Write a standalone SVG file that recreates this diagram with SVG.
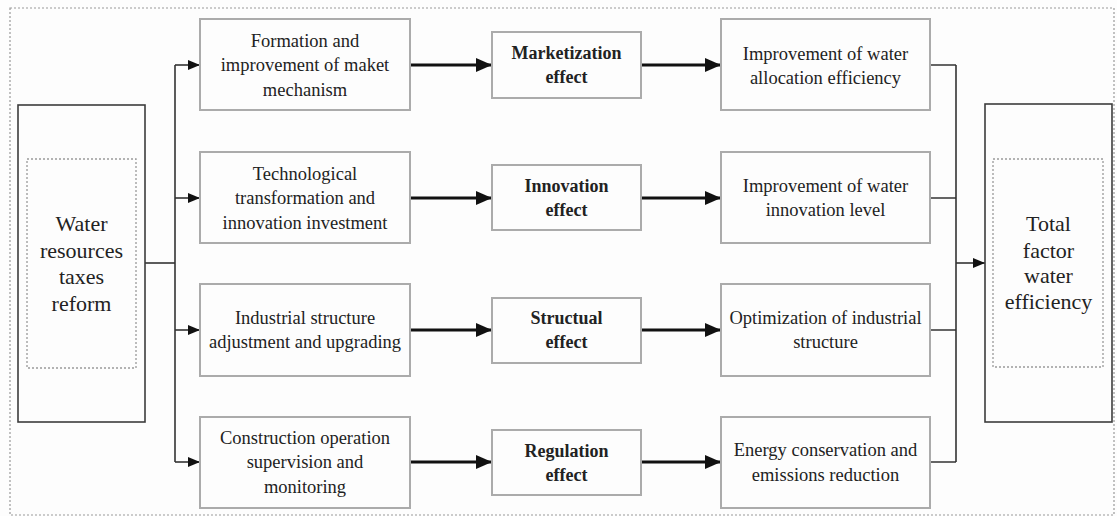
<svg xmlns="http://www.w3.org/2000/svg" width="1117" height="516" viewBox="0 0 1117 516">
<style>
.bg{fill:#fdfdfd}
.frame{fill:none;stroke:#9a9a9a;stroke-width:1.2;stroke-dasharray:2 2}
.big{fill:#fdfdfd;stroke:#3c3c3c;stroke-width:1.6}
.inner{fill:none;stroke:#9a9a9a;stroke-width:1.3;stroke-dasharray:2 2}
.box{fill:#fdfdfd;stroke:#ababab;stroke-width:2}
.t{font-family:"Liberation Serif","Times New Roman",serif;font-size:18.5px;fill:#222;text-anchor:middle}
.tb{font-family:"Liberation Serif","Times New Roman",serif;font-size:18px;font-weight:bold;fill:#222;text-anchor:middle}
.tl{font-family:"Liberation Serif","Times New Roman",serif;font-size:22px;fill:#222;text-anchor:middle}
.thin{fill:none;stroke:#333;stroke-width:1.6}
.thick{fill:none;stroke:#111;stroke-width:3}
</style>
<defs>
<marker id="ah" markerUnits="userSpaceOnUse" markerWidth="12" markerHeight="10" refX="12" refY="5" orient="auto">
<path d="M0,0 L12,5 L0,10 z" fill="#111"/>
</marker>
<marker id="ahb" markerUnits="userSpaceOnUse" markerWidth="16" markerHeight="14" refX="16" refY="7" orient="auto">
<path d="M0,0 L16,7 L0,14 z" fill="#111"/>
</marker>
</defs>
<rect class="bg" x="0" y="0" width="1117" height="516"/>
<rect class="frame" x="10" y="8" width="1104" height="507"/>

<g id="connectors">
<path class="thin" d="M145,263 H175"/>
<path class="thin" d="M175,65 V462"/>
<path class="thin" d="M175,65 H200" marker-end="url(#ah)"/>
<path class="thin" d="M175,198 H200" marker-end="url(#ah)"/>
<path class="thin" d="M175,330 H200" marker-end="url(#ah)"/>
<path class="thin" d="M175,462 H200" marker-end="url(#ah)"/>
<path class="thick" d="M410,65 H492" marker-end="url(#ahb)"/>
<path class="thick" d="M410,198 H492" marker-end="url(#ahb)"/>
<path class="thick" d="M410,330 H492" marker-end="url(#ahb)"/>
<path class="thick" d="M410,462 H492" marker-end="url(#ahb)"/>
<path class="thick" d="M641,65 H721" marker-end="url(#ahb)"/>
<path class="thick" d="M641,198 H721" marker-end="url(#ahb)"/>
<path class="thick" d="M641,330 H721" marker-end="url(#ahb)"/>
<path class="thick" d="M641,462 H721" marker-end="url(#ahb)"/>
<path class="thin" d="M930,65 H956 M930,198 H956 M930,330 H956 M930,462 H956"/>
<path class="thin" d="M956,65 V462"/>
<path class="thin" d="M956,263 H985" marker-end="url(#ah)"/>
</g>

<g id="reform">
<rect class="big" x="18" y="105" width="127" height="317"/>
<rect class="inner" x="27" y="159" width="109" height="209"/>
<text class="tl" x="81.5" y="231">Water</text>
<text class="tl" x="81.5" y="257.5">resources</text>
<text class="tl" x="81.5" y="284">taxes</text>
<text class="tl" x="81.5" y="310.5">reform</text>
</g>

<g id="market">
<rect class="box" x="200" y="19" width="210" height="91"/>
<text class="t" x="305" y="46.5">Formation and</text>
<text class="t" x="305" y="71">improvement of maket</text>
<text class="t" x="305" y="95.5">mechanism</text>
</g>
<g id="tech">
<rect class="box" x="200" y="152" width="210" height="91"/>
<text class="t" x="305" y="179.5">Technological</text>
<text class="t" x="305" y="204">transformation and</text>
<text class="t" x="305" y="228.5">innovation investment</text>
</g>
<g id="industrial">
<rect class="box" x="200" y="284" width="210" height="92"/>
<text class="t" x="305" y="323.5">Industrial structure</text>
<text class="t" x="305" y="348">adjustment and upgrading</text>
</g>
<g id="construction">
<rect class="box" x="200" y="417" width="210" height="91"/>
<text class="t" x="305" y="443.5">Construction operation</text>
<text class="t" x="305" y="468">supervision and</text>
<text class="t" x="305" y="492.5">monitoring</text>
</g>

<g id="marketization">
<rect class="box" x="492" y="32" width="149" height="66"/>
<text class="tb" x="566.5" y="59">Marketization</text>
<text class="tb" x="566.5" y="83">effect</text>
</g>
<g id="innovation">
<rect class="box" x="492" y="165" width="149" height="65"/>
<text class="tb" x="566.5" y="191.5">Innovation</text>
<text class="tb" x="566.5" y="215.5">effect</text>
</g>
<g id="structual">
<rect class="box" x="492" y="298" width="149" height="65"/>
<text class="tb" x="566.5" y="324">Structual</text>
<text class="tb" x="566.5" y="348">effect</text>
</g>
<g id="regulation">
<rect class="box" x="492" y="430" width="149" height="65"/>
<text class="tb" x="566.5" y="456.5">Regulation</text>
<text class="tb" x="566.5" y="480.5">effect</text>
</g>

<g id="allocation">
<rect class="box" x="721" y="19" width="209" height="91"/>
<text class="t" x="825.5" y="59.5">Improvement of water</text>
<text class="t" x="825.5" y="83.5">allocation efficiency</text>
</g>
<g id="innovlevel">
<rect class="box" x="721" y="152" width="209" height="91"/>
<text class="t" x="825.5" y="192">Improvement of water</text>
<text class="t" x="825.5" y="216">innovation level</text>
</g>
<g id="optimization">
<rect class="box" x="721" y="284" width="209" height="92"/>
<text class="t" x="825.5" y="324">Optimization of industrial</text>
<text class="t" x="825.5" y="348">structure</text>
</g>
<g id="energy">
<rect class="box" x="721" y="417" width="209" height="91"/>
<text class="t" x="825.5" y="456">Energy conservation and</text>
<text class="t" x="825.5" y="480.5">emissions reduction</text>
</g>

<g id="tfwe">
<rect class="big" x="985" y="104" width="127" height="318"/>
<rect class="inner" x="993" y="159" width="110" height="208"/>
<text class="tl" x="1048.5" y="231">Total</text>
<text class="tl" x="1048.5" y="257.5">factor</text>
<text class="tl" x="1048.5" y="283">water</text>
<text class="tl" x="1048.5" y="309">efficiency</text>
</g>
</svg>
